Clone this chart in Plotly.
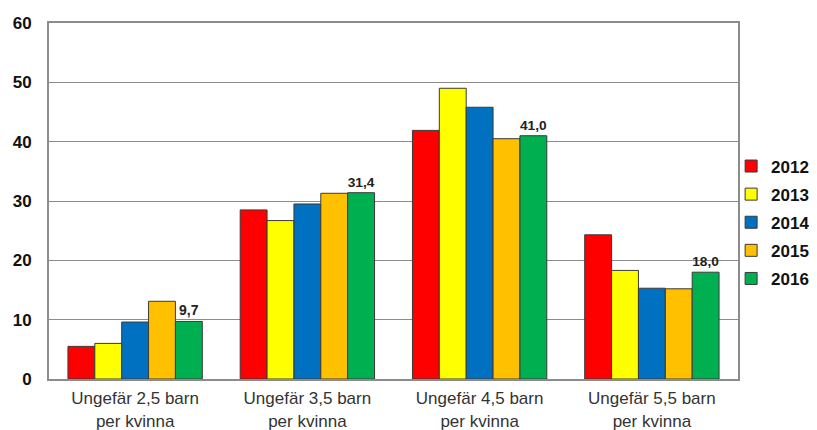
import plotly.graph_objects as go

categories = ["Ungefär 2,5 barn<br>per kvinna", "Ungefär 3,5 barn<br>per kvinna",
              "Ungefär 4,5 barn<br>per kvinna", "Ungefär 5,5 barn<br>per kvinna"]
years = ["2012", "2013", "2014", "2015", "2016"]
v2012 = [5.5, 28.5, 41.9, 24.3]
v2013 = [6.0, 26.7, 49.0, 18.3]
v2014 = [9.6, 29.5, 45.8, 15.3]
v2015 = [13.1, 31.3, 40.5, 15.2]
v2016 = [9.7, 31.4, 41.0, 18.0]
yticks = [0, 10, 20, 30, 40, 50, 60]

series = [v2012, v2013, v2014, v2015, v2016]
colors = ["#FF0000", "#FFFF00", "#0070C0", "#FFC000", "#00B050"]

fig = go.Figure()
for yr, vals, col in zip(years, series, colors):
    kw = {}
    if yr == "2016":
        kw = dict(text=[f"{v:.1f}".replace(".", ",") for v in vals],
                  texttemplate="<b>%{text}</b>",
                  textposition="outside",
                  textfont=dict(family="Arial", size=14, color="#222222"),
                  cliponaxis=False)
    fig.add_trace(go.Bar(
        x=categories, y=vals, name=f"<b>{yr}</b>", legendgroup=yr,
        marker=dict(color=col, line=dict(color="#3a3a3a", width=1)),
        **kw))

# page body has an 8px margin; figure sized so it fills the 817x430 window
fig.update_layout(
    width=809, height=422,
    margin=dict(l=41, r=79, t=15, b=51, autoexpand=False),
    paper_bgcolor="white", plot_bgcolor="white",
    barmode="group", bargap=0.22, bargroupgap=0,
    font=dict(family="Arial", color="#222222"),
    showlegend=True,
    legend=dict(x=0.99, xanchor="left", y=0.6475, yanchor="top",
                bgcolor="rgba(0,0,0,0)",
                font=dict(family="Arial", size=17, color="#111111"),
                tracegroupgap=3, itemwidth=30),
)
fig.update_yaxes(range=[0, 60], tickvals=yticks, ticktext=[f"<b>{t}</b>" for t in yticks],
                 showgrid=True, gridcolor="#8c8c8c", gridwidth=1,
                 showline=True, linecolor="#8c8c8c", linewidth=2, mirror=True,
                 tickfont=dict(family="Arial", size=17, color="#111111"),
                 ticks="", zeroline=False, automargin=False, ticklabelstandoff=12)
fig.update_xaxes(showline=True, linecolor="#8c8c8c", linewidth=2, mirror=True,
                 tickfont=dict(family="Arial", size=17, color="#333333"),
                 ticks="", automargin=False, ticklabelstandoff=3)

fig.write_html("out.html")
